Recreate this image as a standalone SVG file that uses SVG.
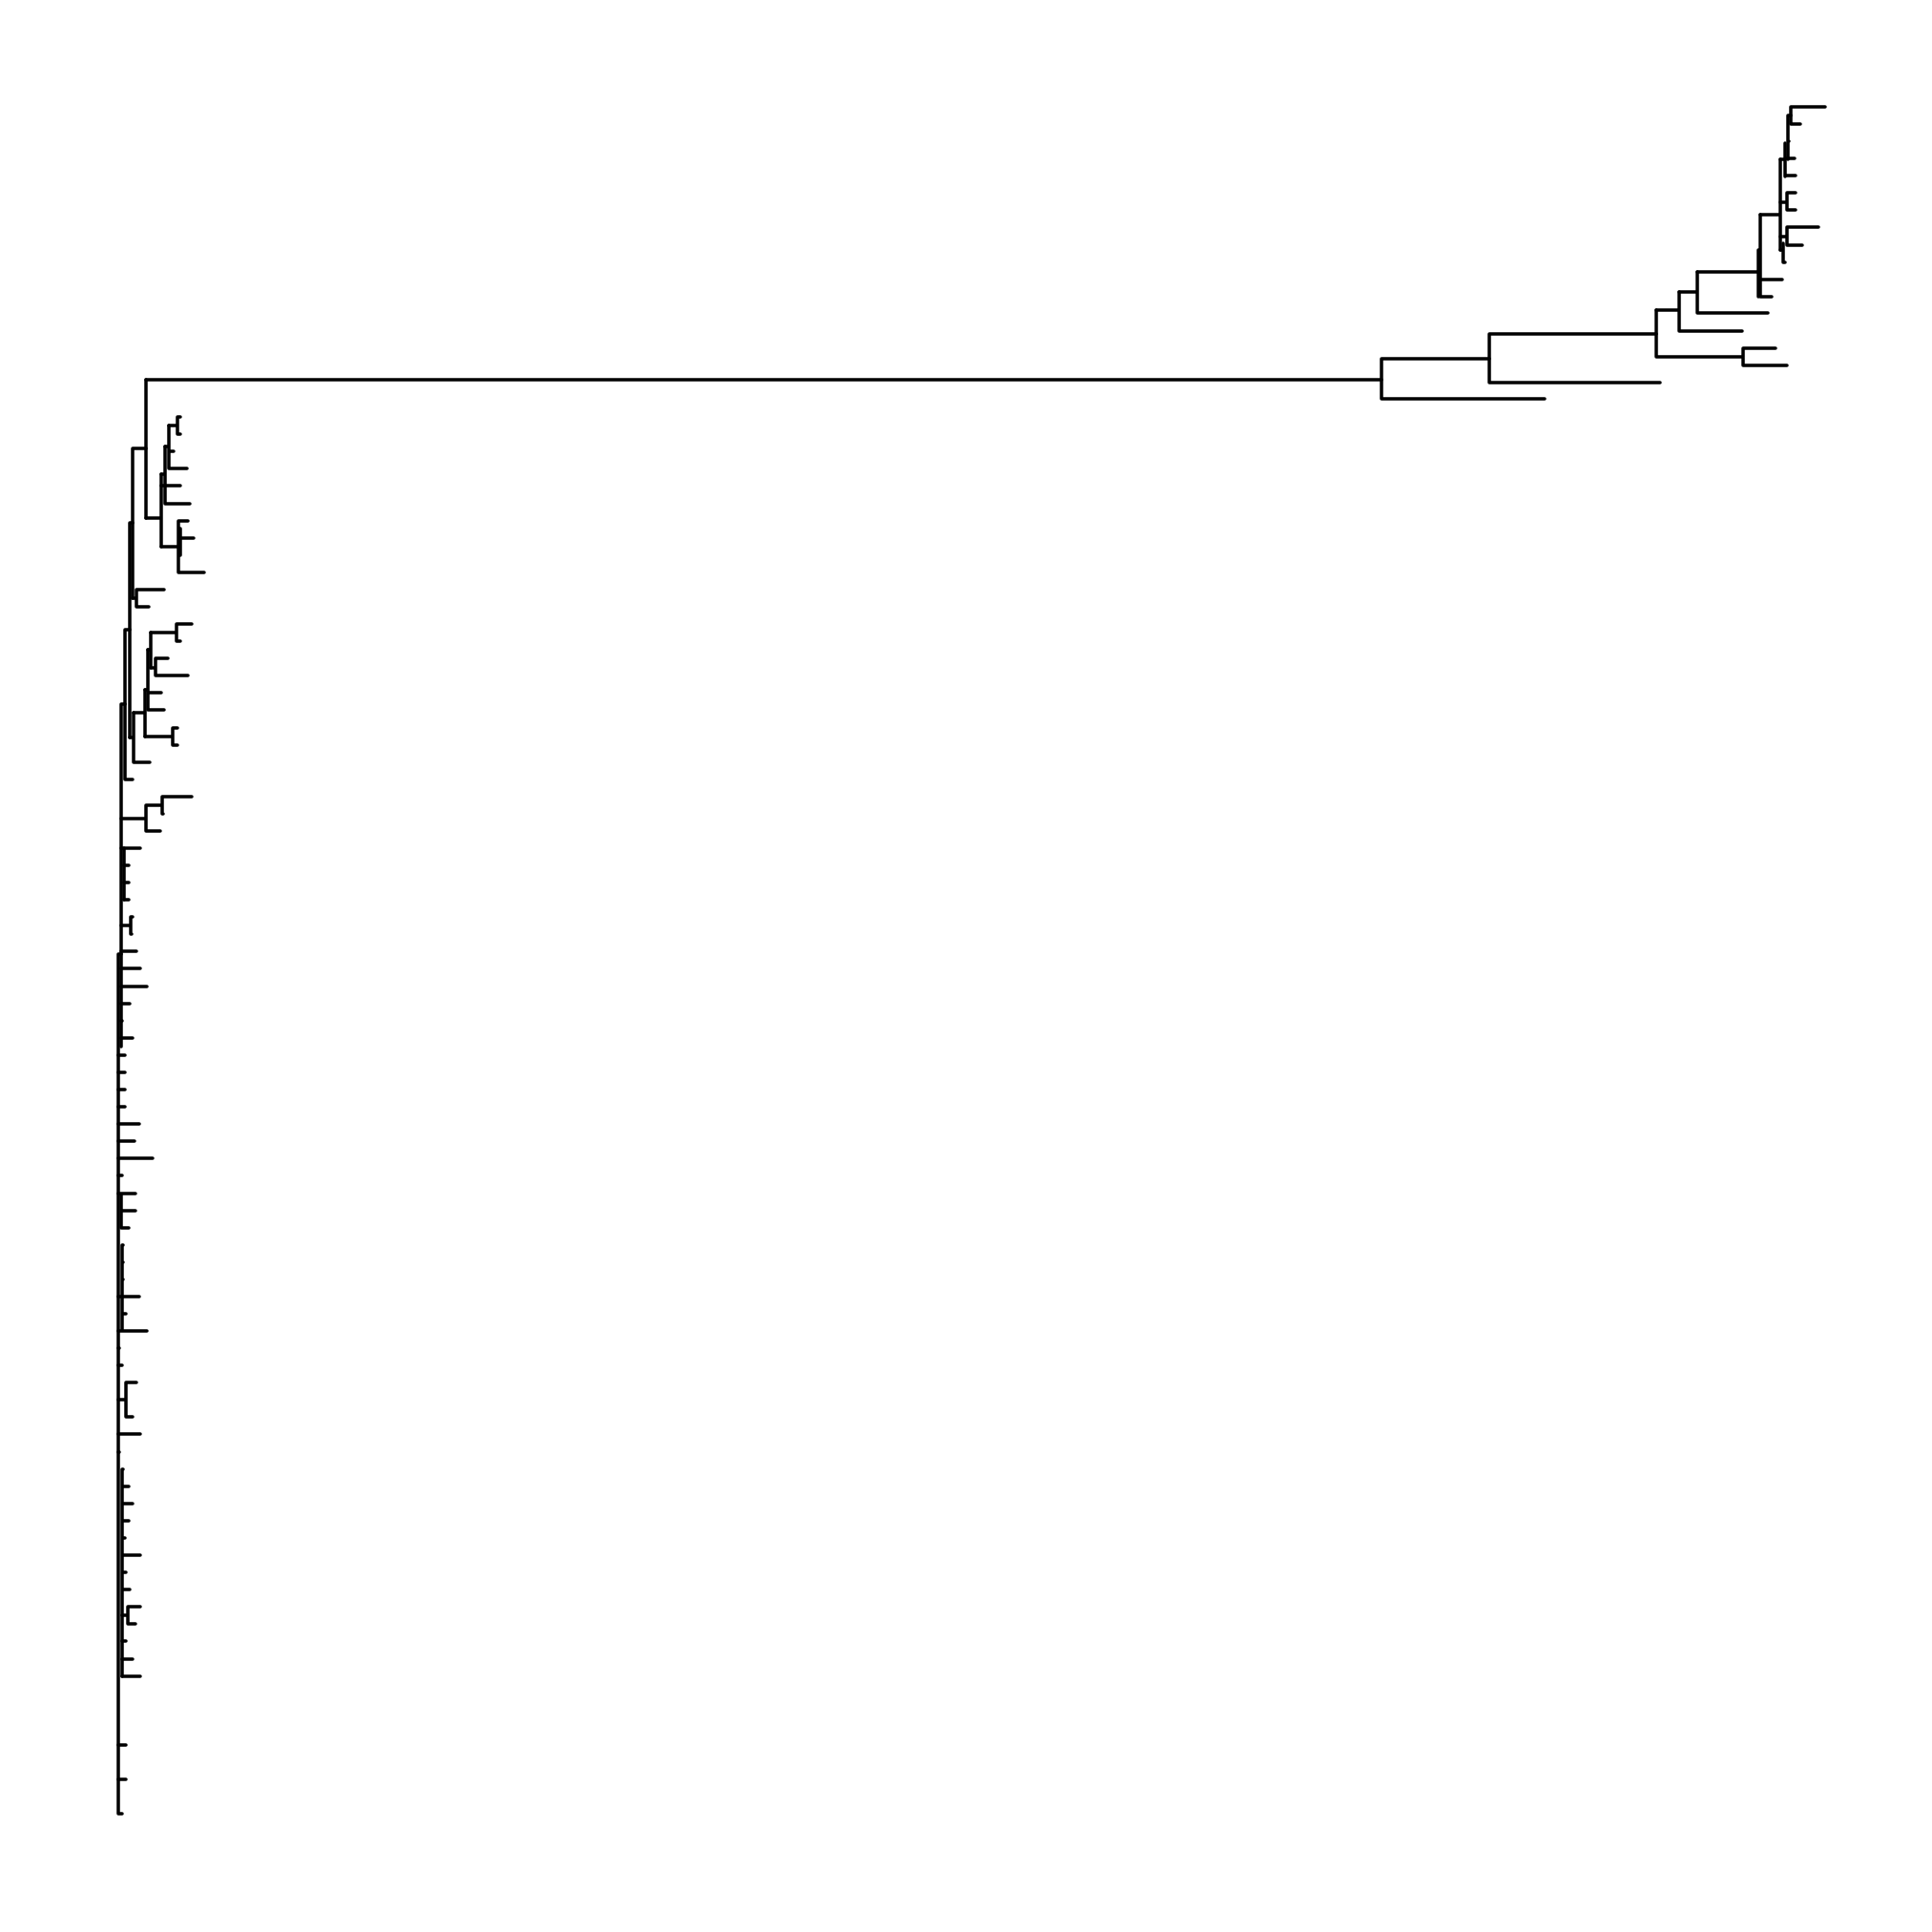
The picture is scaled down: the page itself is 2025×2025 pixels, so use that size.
<svg xmlns="http://www.w3.org/2000/svg" width="2025" height="2025" viewBox="0 0 2025 2025">
<style>
.e{fill:none;stroke:#000;stroke-width:3.5;stroke-linecap:round;stroke-linejoin:round}
</style>
<rect width="2025" height="2025" fill="#fff"/>
<g id="connectors" class="e">
<g id="root">
<path d="M153 398H1448"/>
<path d="M153 398V543"/>
<path d="M139 470H153M139 470V627"/>
<path d="M136 548H139M136 548V773"/>
<path d="M131 660H136M131 660V817M131 817H139"/>
<path d="M127 738H131M127 738V1097"/>
<path d="M124 1000H127M124 1000V1901H128"/>
</g>
<g id="clade-right">
<path d="M1448 376V418M1448 418H1619M1448 376H1561"/>
<path d="M1561 350V401M1561 401H1740M1561 350H1736"/>
<path d="M1736 325V374M1736 374H1827M1827 365V383M1827 365H1861M1827 383H1873"/>
<path d="M1736 325H1760M1760 306V347M1760 347H1826"/>
<path d="M1760 306H1779M1779 285V328M1779 328H1853"/>
<path d="M1779 285H1845M1845 225V311M1843 262V311M1845 293H1868M1845 311H1857"/>
<path d="M1845 225H1866M1866 167V262"/>
<path d="M1877 112V130M1877 112H1913M1877 130H1887"/>
<path d="M1874 121H1877M1874 121V167M1874 148H1875"/>
<path d="M1871 150V185M1871 166H1881M1871 184H1882M1866 167H1871"/>
<path d="M1866 212H1873M1873 202V220M1873 202H1882M1873 220H1882"/>
<path d="M1866 248H1873M1873 238V257M1873 238H1906M1873 257H1889"/>
<path d="M1866 262H1869M1869 255V275M1869 275H1871"/>
</g>
<g id="clade-upper-left">
<path d="M153 543H169M169 497V573"/>
<path d="M169 509H189"/>
<path d="M169 497H173M173 468V528M173 528H199"/>
<path d="M173 468H177M177 446V491M177 473H182M177 491H196"/>
<path d="M177 446H186M186 437V455M186 437H189M186 455H189"/>
<path d="M169 573H187M187 546V600M187 546H197M187 564H203M187 582H188M187 600H214M189 554V582"/>
<path d="M139 627H143M143 618V636M143 618H172M143 636H156"/>
</g>
<g id="clade-mid">
<path d="M136 773H140M140 747V799M140 799H157"/>
<path d="M140 747H152M152 723V772"/>
<path d="M152 772H181M181 763V781M181 763H186M181 781H186"/>
<path d="M152 723H155M155 681V744M155 726H169M155 744H172"/>
<path d="M155 681H158M158 663V700"/>
<path d="M158 663H185M185 654V672M185 654H201M185 672H189"/>
<path d="M158 700H163M163 690V708M163 690H176M163 708H197"/>
<path d="M127 858H153M153 844V871M153 871H168M153 844H170M170 835V853M170 835H201M170 853H171"/>
</g>
<g id="clade-spine-leaves">
<path d="M130 889V943"/>
<path d="M127 889H147M130 907H135M130 925H135M130 943H135"/>
<path d="M127 970H137M137 961V979M137 961H139M137 979H138"/>
<path d="M127 997H143M127 1015H147M127 1034H154M127 1052H136M127 1070H128M127 1088H139"/>
<path d="M124 1106H131M124 1124H131M124 1142H131M124 1160H131"/>
<path d="M124 1178H146M124 1196H141M124 1214H160M124 1232H128"/>
<path d="M127 1251V1287M124 1251H142M127 1269H142M127 1287H135"/>
<path d="M128 1305V1395M128 1305H129M128 1323H129M128 1341H129M124 1359H146M128 1377H132M124 1395H154"/>
<path d="M124 1413H125M124 1431H128"/>
<path d="M124 1467H132M132 1449V1485M132 1449H143M132 1485H139"/>
<path d="M124 1503H147M124 1522H125"/>
<path d="M128 1540V1757M128 1540H129M128 1558H135M128 1576H139M128 1594H135M128 1612H131M128 1630H147M128 1648H132M128 1666H136"/>
<path d="M128 1693H134M134 1684V1702M134 1684H147M134 1702H142"/>
<path d="M128 1720H132M128 1739H139M128 1757H147"/>
<path d="M124 1829H132M124 1865H132"/>
</g>
</g>
</svg>
